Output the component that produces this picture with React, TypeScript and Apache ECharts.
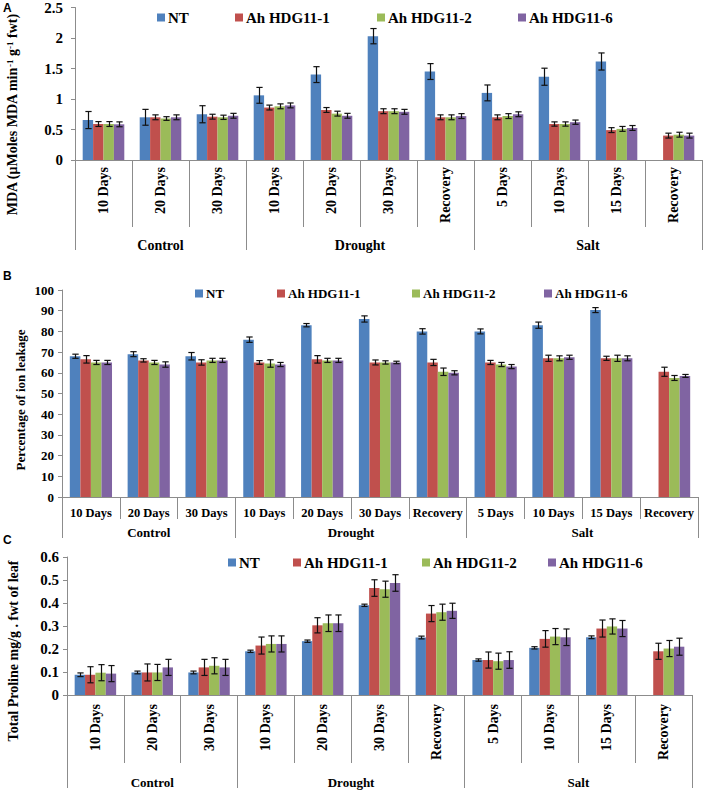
import React, { useEffect, useRef } from 'react';
import * as echarts from 'echarts';

// ---------- data ----------
const categories = ['10 Days', '20 Days', '30 Days', '10 Days', '20 Days', '30 Days', 'Recovery', '5 Days', '10 Days', '15 Days', 'Recovery'];
const groupNames = ['Control', 'Drought', 'Salt'];
const groupSizes = [3, 4, 4];
const seriesNames = ['NT', 'Ah HDG11-1', 'Ah HDG11-2', 'Ah HDG11-6'];
const colors = ['#4F81BD', '#C0504D', '#9BBB59', '#8064A2'];

// Panel A: MDA
const mdaNT = [0.655, 0.70, 0.75, 1.06, 1.40, 2.03, 1.45, 1.10, 1.365, 1.615, null];
const mdaH1 = [0.59, 0.70, 0.71, 0.86, 0.82, 0.80, 0.70, 0.70, 0.59, 0.49, 0.40];
const mdaH2 = [0.59, 0.68, 0.70, 0.88, 0.76, 0.80, 0.70, 0.72, 0.59, 0.51, 0.415];
const mdaH6 = [0.585, 0.70, 0.725, 0.895, 0.725, 0.79, 0.72, 0.75, 0.62, 0.525, 0.40];
const mdaNTErr = [0.14, 0.13, 0.14, 0.13, 0.13, 0.125, 0.13, 0.13, 0.14, 0.14, null];
const mdaH1Err = [0.04, 0.04, 0.04, 0.04, 0.04, 0.04, 0.04, 0.04, 0.035, 0.04, 0.04];
const mdaH2Err = [0.04, 0.03, 0.035, 0.04, 0.04, 0.04, 0.04, 0.04, 0.035, 0.04, 0.04];
const mdaH6Err = [0.04, 0.04, 0.04, 0.04, 0.04, 0.04, 0.04, 0.04, 0.035, 0.04, 0.04];

// Panel B: ion leakage
const ionNT = [68, 69, 68, 76, 83, 86, 80, 80, 83, 90.3, null];
const ionH1 = [66.5, 66, 65, 65, 66.5, 65, 65, 65, 67, 67, 60.5];
const ionH2 = [65, 65, 66, 64.5, 66, 65, 60.5, 64, 67, 67, 57.5];
const ionH6 = [65, 64, 66, 64, 66, 65, 60, 63, 67.5, 67, 58.5];
const ionNTErr = [1, 1.2, 1.8, 1.3, 0.8, 1.5, 1.3, 1.2, 1.5, 1.2, null];
const ionH1Err = [1.8, 0.8, 1.3, 0.9, 1.8, 1.2, 1.5, 1.0, 1.5, 1.0, 2.2];
const ionH2Err = [1, 1, 1, 1.8, 1, 0.8, 1.8, 1, 1.2, 1.5, 1.2];
const ionH6Err = [1, 1.3, 1, 1, 1, 0.6, 1, 1, 1, 1.2, 0.7];

// Panel C: proline
const proNT = [0.088, 0.098, 0.098, 0.19, 0.234, 0.39, 0.25, 0.152, 0.205, 0.251, null];
const proH1 = [0.088, 0.098, 0.12, 0.215, 0.303, 0.465, 0.354, 0.152, 0.244, 0.289, 0.19];
const proH2 = [0.097, 0.098, 0.127, 0.222, 0.312, 0.46, 0.36, 0.147, 0.254, 0.298, 0.202];
const proH6 = [0.093, 0.12, 0.12, 0.222, 0.312, 0.487, 0.366, 0.152, 0.251, 0.289, 0.21];
const proNTErr = [0.008, 0.006, 0.006, 0.005, 0.005, 0.005, 0.006, 0.005, 0.005, 0.006, null];
const proH1Err = [0.035, 0.037, 0.035, 0.037, 0.033, 0.036, 0.035, 0.035, 0.036, 0.037, 0.035];
const proH2Err = [0.035, 0.035, 0.035, 0.035, 0.036, 0.035, 0.035, 0.035, 0.035, 0.033, 0.035];
const proH6Err = [0.035, 0.035, 0.035, 0.035, 0.036, 0.036, 0.033, 0.036, 0.036, 0.035, 0.037];

// ---------- styling ----------
const SERIF = 'Liberation Serif';
const SANS = 'Liberation Sans';
const AX = '#8c8c8c';
const GAP = 0.27;

const panels = [
  {
    grid: { left: 75, top: 7, width: 627, height: 153 },
    y: { min: 0, max: 2.5, interval: 0.5, fontSize: 15, margin: 12 },
    cat: { rotate: 90, fontSize: 14, margin: 7, tick: 67 },
    group: { tick: 90, margin: 78, fontSize: 14 },
    legendY: 18, legendXs: [157, 235, 377, 518], legendFont: 15,
    values: [mdaNT, mdaH1, mdaH2, mdaH6],
    errs: [mdaNTErr, mdaH1Err, mdaH2Err, mdaH6Err],
  },
  {
    grid: { left: 62, top: 290, width: 636, height: 207 },
    y: { min: 0, max: 100, interval: 10, fontSize: 13, margin: 8 },
    cat: { rotate: 0, fontSize: 12.5, margin: 9, tick: 22 },
    group: { tick: 41, margin: 29, fontSize: 13 },
    legendY: 295, legendXs: [195, 277, 412, 544], legendFont: 13,
    values: [ionNT, ionH1, ionH2, ionH6],
    errs: [ionNTErr, ionH1Err, ionH2Err, ionH6Err],
  },
  {
    grid: { left: 67, top: 557, width: 625, height: 138 },
    y: { min: 0, max: 0.6, interval: 0.1, fontSize: 15, margin: 8 },
    cat: { rotate: 90, fontSize: 14, margin: 9, tick: 68 },
    group: { tick: 93, margin: 81, fontSize: 13 },
    legendY: 563, legendXs: [228, 293, 422, 548], legendFont: 15,
    values: [proNT, proH1, proH2, proH6],
    errs: [proNTErr, proH1Err, proH2Err, proH6Err],
  },
];

function buildOption() {
  const nPts = categories.length * 2 + 1;
  const pts = Array.from({ length: nPts }, (_, j) => 'p' + j);
  const boundaries = new Set<number>([0]);
  const centers = new Map<number, string>();
  let acc = 0;
  groupSizes.forEach((n, g) => {
    centers.set(2 * acc + n, groupNames[g]);
    acc += n;
    boundaries.add(2 * acc);
  });

  const grid: any[] = [];
  const xAxis: any[] = [];
  const yAxis: any[] = [];
  const series: any[] = [];
  const legend: any[] = [];

  panels.forEach((p, pi) => {
    grid.push({ ...p.grid, containLabel: false });
    xAxis.push({
      type: 'category', gridIndex: pi, data: categories, position: 'bottom',
      axisLine: { lineStyle: { color: AX, width: 1 } },
      axisTick: { show: true, interval: 0, length: p.cat.tick, lineStyle: { color: AX } },
      axisLabel: {
        interval: 0, rotate: p.cat.rotate, margin: p.cat.margin, color: '#000',
        fontFamily: SERIF, fontWeight: 'bold', fontSize: p.cat.fontSize,
      },
      splitLine: { show: false },
    });
    xAxis.push({
      type: 'category', gridIndex: pi, data: pts, position: 'bottom', boundaryGap: false,
      axisLine: { show: false },
      axisTick: { show: true, length: p.group.tick, interval: (i: number) => boundaries.has(i), lineStyle: { color: AX } },
      axisLabel: {
        interval: (i: number) => centers.has(i),
        formatter: (_v: string, i: number) => centers.get(i) || '',
        margin: p.group.margin, color: '#000',
        fontFamily: SERIF, fontWeight: 'bold', fontSize: p.group.fontSize,
      },
      splitLine: { show: false },
    });
    yAxis.push({
      type: 'value', gridIndex: pi, min: p.y.min, max: p.y.max, interval: p.y.interval,
      axisLine: { show: true, lineStyle: { color: AX } },
      axisTick: { show: true, length: 4, lineStyle: { color: AX } },
      axisLabel: { margin: p.y.margin, color: '#000', fontFamily: SERIF, fontWeight: 'bold', fontSize: p.y.fontSize },
      splitLine: { show: false },
    });

    seriesNames.forEach((name, si) => {
      series.push({
        type: 'bar', name, xAxisIndex: pi * 2, yAxisIndex: pi,
        data: p.values[si],
        barGap: '0%', barCategoryGap: GAP * 100 + '%',
        itemStyle: { color: colors[si] },
        z: 2,
      });
      const errData = p.values[si]
        .map((v, i) => (v == null ? null : [i, v - (p.errs[si][i] as number), v + (p.errs[si][i] as number)]))
        .filter((d) => d != null);
      series.push({
        type: 'custom', name: 'err' + pi + '_' + si, xAxisIndex: pi * 2, yAxisIndex: pi,
        data: errData, z: 5,
        encode: { x: 0, y: [1, 2] },
        renderItem: (_params: any, api: any) => {
          const xi = api.value(0);
          const lo = api.coord([xi, api.value(1)]);
          const hi = api.coord([xi, api.value(2)]);
          const bandW = api.size([1, 0])[0];
          const bw = (bandW * (1 - GAP)) / 4;
          const cx = Math.round(lo[0] + (si - 1.5) * bw) + 0.5;
          const hw = Math.max(2.5, bw * 0.3);
          const st = { stroke: '#111', lineWidth: 1.2, fill: null };
          return {
            type: 'group',
            children: [
              { type: 'line', shape: { x1: cx, y1: lo[1], x2: cx, y2: hi[1] }, style: st },
              { type: 'line', shape: { x1: cx - hw, y1: lo[1], x2: cx + hw, y2: lo[1] }, style: st },
              { type: 'line', shape: { x1: cx - hw, y1: hi[1], x2: cx + hw, y2: hi[1] }, style: st },
            ],
          };
        },
      });
      legend.push({
        data: [name], left: p.legendXs[si], top: p.legendY - 8, padding: 0,
        itemWidth: 8, itemHeight: 8, icon: 'rect', selectedMode: false, itemGap: 0,
        textStyle: { fontFamily: SERIF, fontWeight: 'bold', fontSize: p.legendFont, color: '#000', padding: [0, 0, 0, -2] },
      });
    });
  });

  const titleStyle = (size: number) => ({ font: `bold ${size}px "${SERIF}"`, fill: '#000', textAlign: 'center', textVerticalAlign: 'middle' });

  const graphic: any[] = [
    { type: 'text', left: 3, top: 2, style: { text: 'A', font: `bold 12px "${SANS}"`, fill: '#000' } },
    { type: 'text', left: 3, top: 270, style: { text: 'B', font: `bold 12px "${SANS}"`, fill: '#000' } },
    { type: 'text', left: 3, top: 534, style: { text: 'C', font: `bold 12px "${SANS}"`, fill: '#000' } },
    {
      type: 'text', x: 12, y: 115, rotation: Math.PI / 2,
      style: {
        ...titleStyle(14),
        text: 'MDA (μMoles MDA min{sup|-1} g{sup|-1} fwt)',
        rich: { sup: { font: `bold 9px "${SERIF}"`, verticalAlign: 'top', fill: '#000' } },
      },
    },
    { type: 'text', x: 20, y: 400, rotation: Math.PI / 2, style: { ...titleStyle(13), text: 'Percentage of ion leakage' } },
    { type: 'text', x: 13, y: 651, rotation: Math.PI / 2, style: { ...titleStyle(14), text: 'Total Proline mg/g . fwt of leaf' } },
  ];

  return {
    animation: false,
    backgroundColor: '#fff',
    textStyle: { fontFamily: SERIF },
    grid, xAxis, yAxis, series, legend, graphic,
  };
}

export default function App() {
  const ref = useRef<HTMLDivElement>(null);
  useEffect(() => {
    const chart = echarts.init(ref.current!, null, { renderer: 'svg' });
    chart.setOption(buildOption() as any);
    return () => chart.dispose();
  }, []);
  return <div ref={ref} style={{ position: 'absolute', left: 0, top: 0, width: 708, height: 791, background: '#fff' }} />;
}
